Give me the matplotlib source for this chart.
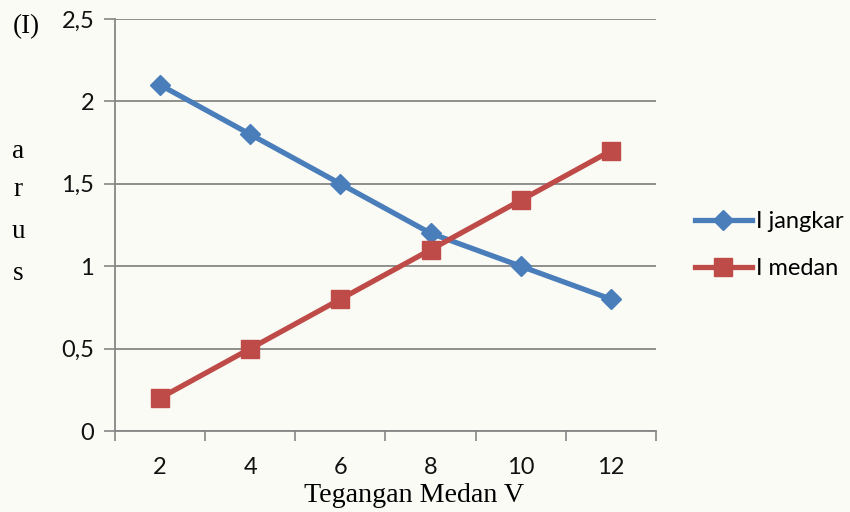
import matplotlib.pyplot as plt
import numpy as np

# Data
tegangan = [2, 4, 6, 8, 10, 12]
i_jangkar = [2.1, 1.8, 1.5, 1.2, 1.0, 0.8]
i_medan = [0.2, 0.5, 0.8, 1.1, 1.4, 1.7]
y_ticks = [0, 0.5, 1, 1.5, 2, 2.5]
y_tick_labels = ["0", "0,5", "1", "1,5", "2", "2,5"]

bg = "#fbfbf6"
grid_col = "#868686"
blue = "#4a7ebb"
red = "#be4b48"
sans = "Lato"
serif = "Liberation Serif"

fig = plt.figure(figsize=(8.5, 5.12), dpi=100, facecolor=bg)
ax = fig.add_axes([115 / 850, 81 / 512, 541 / 850, 412 / 512], facecolor=bg)

pos = np.arange(len(tegangan))
ax.plot(pos, i_jangkar, color=blue, lw=3.8, marker="D", ms=10.5,
        mec=blue, mfc=blue, label="I jangkar", zorder=3)
ax.plot(pos, i_medan, color=red, lw=3.8, marker="s", ms=13,
        mec=red, mfc=red, label="I medan", zorder=3)

ax.set_xlim(-0.5, len(tegangan) - 0.5)
ax.set_ylim(0, 2.5)

# category labels centred, ticks between categories
ax.set_xticks(np.arange(-0.5, len(tegangan), 1.0))
ax.set_xticklabels([])
ax.set_xticks(pos, minor=True)
ax.set_xticklabels([str(v) for v in tegangan], minor=True,
                   fontfamily=sans, fontsize=17, color="#111111")
ax.tick_params(axis="x", which="minor", length=0, pad=19)
ax.tick_params(axis="x", which="major", length=7, width=1.2,
               color=grid_col, direction="out")

ax.set_yticks(y_ticks)
ax.set_yticklabels(y_tick_labels, fontfamily=sans, fontsize=17, color="#111111")
ax.tick_params(axis="y", length=8, width=1.2, color=grid_col,
               direction="out", pad=7)

ax.yaxis.grid(True, color=grid_col, lw=1.3)
ax.set_axisbelow(True)
for side in ("top", "right"):
    ax.spines[side].set_visible(False)
for side in ("left", "bottom"):
    ax.spines[side].set_color(grid_col)
    ax.spines[side].set_linewidth(1.3)

fig.text(414 / 850, 1 - 496 / 512, "Tegangan Medan V", fontfamily=serif,
         fontsize=20.2, ha="center", va="center")

fig.text(13 / 850, 1 - 27 / 512, "(I)", fontfamily=serif,
         fontsize=19.5, va="center", ha="left")
for ch, yy in zip("arus", [152, 190, 232, 274]):
    fig.text(18 / 850, 1 - yy / 512, ch, fontfamily=serif,
             fontsize=19.5, va="center", ha="center")

leg = fig.legend(loc="center left", bbox_to_anchor=(695 / 850, 1 - 245 / 512),
                 frameon=False, prop={"family": sans, "size": 17},
                 borderpad=0, borderaxespad=0,
                 handlelength=2.4, handletextpad=0.17, labelspacing=1.1)

fig.savefig("out.png", dpi=100, facecolor=bg)
